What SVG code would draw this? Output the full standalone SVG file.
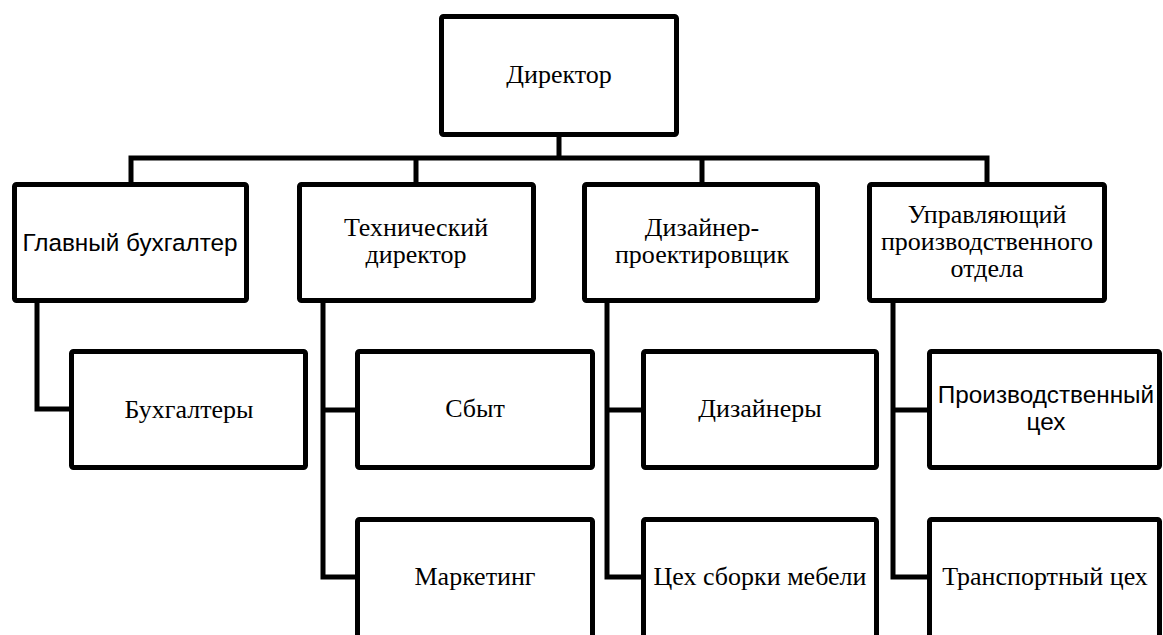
<svg xmlns="http://www.w3.org/2000/svg" width="1163" height="635" viewBox="0 0 1163 635">
<style>
.box{fill:#fff;stroke:#000;stroke-width:5;}
.conn{fill:none;stroke:#000;stroke-width:5;stroke-linejoin:miter;stroke-linecap:square;}
.s{font-family:"Liberation Serif","Times New Roman",serif;font-size:26px;fill:#000;text-anchor:middle;}
.ss{font-family:"Liberation Sans",Arial,sans-serif;font-size:24.3px;fill:#000;text-anchor:middle;}
</style>
<rect width="1163" height="635" fill="#fff"/>
<g id="connectors">
<path class="conn" d="M559,137 V158 M131,158 H987 M131,158 V182 M416,158 V182 M702,158 V182 M987,158 V182"/>
<path class="conn" d="M37,303 V409 H69"/>
<path class="conn" d="M323,303 V577 H355 M323,410 H355"/>
<path class="conn" d="M607,303 V577 H641 M607,410 H641"/>
<path class="conn" d="M893,303 V577 H927 M893,410 H927"/>
</g>
<g id="director"><rect class="box" x="441.5" y="16.5" width="235" height="118" rx="2"/><text class="s" x="559" y="83">Директор</text></g>
<g id="chief-accountant"><rect class="box" x="14.5" y="184.5" width="232" height="116" rx="2"/><text class="ss" x="130" y="251">Главный бухгалтер</text></g>
<g id="tech-director"><rect class="box" x="299.5" y="184.5" width="234" height="116" rx="2"/><text class="s" x="416" y="236">Технический</text><text class="s" x="416" y="263">директор</text></g>
<g id="designer-lead"><rect class="box" x="584.5" y="184.5" width="233" height="116" rx="2"/><text class="s" x="702" y="236">Дизайнер-</text><text class="s" x="702" y="263">проектировщик</text></g>
<g id="production-manager"><rect class="box" x="869.5" y="184.5" width="235" height="116" rx="2"/><text class="s" x="987" y="223">Управляющий</text><text class="s" x="987" y="250">производственного</text><text class="s" x="987" y="277">отдела</text></g>
<g id="accountants"><rect class="box" x="71.5" y="351.5" width="234" height="116" rx="2"/><text class="s" x="189" y="418">Бухгалтеры</text></g>
<g id="sales"><rect class="box" x="357.5" y="351.5" width="235" height="116" rx="2"/><text class="s" x="475" y="417">Сбыт</text></g>
<g id="marketing"><rect class="box" x="357.5" y="519.5" width="235" height="130" rx="2"/><text class="s" x="475" y="585">Маркетинг</text></g>
<g id="designers"><rect class="box" x="643.5" y="351.5" width="233" height="116" rx="2"/><text class="s" x="760" y="417">Дизайнеры</text></g>
<g id="assembly"><rect class="box" x="643.5" y="519.5" width="233" height="130" rx="2"/><text class="s" x="760" y="585">Цех сборки мебели</text></g>
<g id="production-shop"><rect class="box" x="929.5" y="351.5" width="230" height="116" rx="2"/><text class="ss" x="1046" y="403">Производственный</text><text class="ss" x="1046" y="430">цех</text></g>
<g id="transport-shop"><rect class="box" x="929.5" y="519.5" width="230" height="130" rx="2"/><text class="s" x="1045" y="585">Транспортный цех</text></g>
</svg>
